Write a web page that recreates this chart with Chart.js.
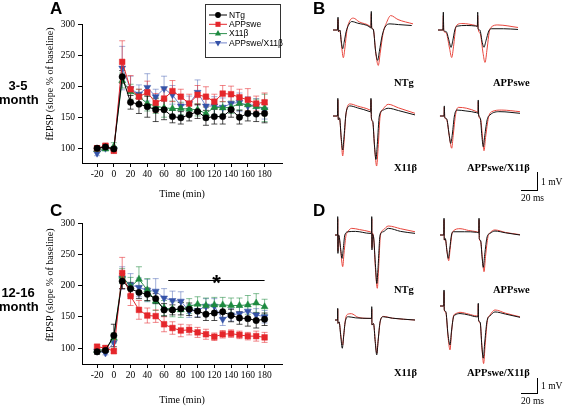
<!DOCTYPE html>
<html>
<head>
<meta charset="utf-8">
<script src="https://cdn.jsdelivr.net/npm/chart.js@4.4.1/dist/chart.umd.min.js"></script>
<style>
  body { margin: 0; background: #fff; }
  #fig { position: relative; width: 563px; height: 406px; overflow: hidden; background: #fff; }
  canvas { position: absolute; }
  .txt { position: absolute; white-space: nowrap; color: #000; }
  .panel { font: bold 17px "Liberation Sans", Arial, sans-serif; line-height: 17px; }
  .age { font: bold 13px "Liberation Sans", Arial, sans-serif; line-height: 14px; text-align: center; width: 38px; }
  .ytitle { font: 10px "Liberation Serif", "Times New Roman", serif; width: 140px; height: 12px; line-height: 12px; text-align: center; transform: rotate(-90deg); }
  .trlab { font: bold 10.5px "Liberation Serif", "Times New Roman", serif; line-height: 12px; }
  .scl { font: 9.5px "Liberation Serif", "Times New Roman", serif; line-height: 11px; }
  .bar { position: absolute; border-color: #000; border-style: solid; border-width: 0; }
</style>
</head>
<body>
<div id="fig">
  <canvas id="chartA" width="290" height="200" style="left:0;top:0"></canvas>
  <canvas id="chartC" width="290" height="216" style="left:0;top:190px"></canvas>

  <canvas id="bNtg" width="90" height="90" style="left:333px;top:3px"></canvas>
  <canvas id="bApp" width="90" height="90" style="left:438px;top:3px"></canvas>
  <canvas id="bX11" width="90" height="90" style="left:333px;top:89px"></canvas>
  <canvas id="bDbl" width="90" height="90" style="left:438px;top:89px"></canvas>
  <canvas id="dNtg" width="90" height="90" style="left:335px;top:208px"></canvas>
  <canvas id="dApp" width="90" height="90" style="left:440px;top:208px"></canvas>
  <canvas id="dX11" width="90" height="90" style="left:335px;top:293px"></canvas>
  <canvas id="dDbl" width="90" height="90" style="left:440px;top:279px"></canvas>

  <div class="txt panel" style="left:50px;top:0">A</div>
  <div class="txt panel" style="left:313px;top:0">B</div>
  <div class="txt panel" style="left:50px;top:202px">C</div>
  <div class="txt panel" style="left:313px;top:202px">D</div>

  <div class="txt age" style="left:-1px;top:79px">3-5<br>month</div>
  <div class="txt age" style="left:-1px;top:286px">12-16<br>month</div>

  <div class="txt ytitle" style="left:-20px;top:78px">fEPSP (slope % of baseline)</div>
  <div class="txt ytitle" style="left:-20px;top:279px">fEPSP (slope % of baseline)</div>

  <div class="txt trlab" style="left:394px;top:77px">NTg</div>
  <div class="txt trlab" style="left:493px;top:77px">APPswe</div>
  <div class="txt trlab" style="left:394px;top:162px">X11β</div>
  <div class="txt trlab" style="left:467px;top:162px">APPswe/X11β</div>
  <div class="txt trlab" style="left:394px;top:284px">NTg</div>
  <div class="txt trlab" style="left:493px;top:284px">APPswe</div>
  <div class="txt trlab" style="left:394px;top:367px">X11β</div>
  <div class="txt trlab" style="left:467px;top:367px">APPswe/X11β</div>

  <div class="bar" style="left:537px;top:172px;height:18px;border-left-width:1px"></div>
  <div class="bar" style="left:521px;top:190px;width:17px;border-top-width:1px"></div>
  <div class="txt scl" style="left:541px;top:177px">1 mV</div>
  <div class="txt scl" style="left:521px;top:193px">20 ms</div>
  <div class="bar" style="left:537px;top:378px;height:15px;border-left-width:1px"></div>
  <div class="bar" style="left:521px;top:393px;width:17px;border-top-width:1px"></div>
  <div class="txt scl" style="left:541px;top:381px">1 mV</div>
  <div class="txt scl" style="left:521px;top:396px">20 ms</div>
</div>

<script>
// time after tetanus (min)
const times = [-20, -10, 0, 10, 20, 30, 40, 50, 60, 70, 80, 90, 100, 110, 120, 130, 140, 150, 160, 170, 180];
const xTicks = [-20, 0, 20, 40, 60, 80, 100, 120, 140, 160, 180];
const yTicks = [100, 150, 200, 250, 300];
const groups = ["NTg", "APPswe", "X11β", "APPswe/X11β"];

// 3-5 month, fEPSP slope % of baseline
const ntgYoung = [100, 102, 99, 215, 174, 171, 167, 162, 162, 151, 149, 154, 159, 149, 151, 151, 162, 150, 156, 155, 156];
const ntgYoungErr = [4, 4, 3, 10, 11, 15, 17, 19, 16, 10, 10, 10, 11, 12, 12, 12, 12, 11, 12, 12, 15];
const appYoung = [100, 104, 96, 239, 195, 183, 190, 173, 180, 192, 183, 172, 186, 183, 175, 188, 187, 182, 178, 172, 174];
const appYoungErr = [4, 4, 4, 34, 22, 12, 18, 15, 15, 17, 12, 15, 15, 16, 12, 13, 13, 13, 18, 12, 15];
const x11Young = [98, 99, 103, 209, 191, 183, 172, 168, 165, 164, 164, 163, 162, 156, 166, 165, 166, 172, 170, 167, 165];
const x11YoungErr = [3, 3, 6, 12, 12, 12, 12, 12, 15, 12, 10, 10, 10, 10, 12, 10, 10, 10, 10, 12, 22];
const dblYoung = [92, 100, 98, 229, 196, 187, 198, 183, 196, 186, 168, 172, 190, 168, 168, 166, 172, 174, 168, 168, 162];
const dblYoungErr = [4, 3, 3, 35, 20, 15, 22, 12, 20, 15, 15, 12, 20, 15, 15, 15, 12, 15, 15, 12, 15];

// 12-16 month
const ntgOld = [94, 96, 120, 207, 195, 189, 186, 179, 161, 161, 163, 162, 159, 154, 156, 158, 152, 148, 147, 144, 146];
const ntgOldErr = [4, 3, 18, 12, 10, 10, 10, 8, 10, 8, 10, 10, 10, 10, 12, 10, 10, 10, 12, 12, 10];
const appOld = [102, 100, 95, 220, 183, 161, 152, 151, 138, 132, 128, 129, 125, 122, 118, 122, 123, 121, 119, 119, 117];
const appOldErr = [4, 4, 4, 25, 15, 15, 12, 10, 12, 10, 10, 8, 8, 8, 6, 6, 6, 6, 6, 8, 8];
const x11Old = [96, 98, 116, 215, 198, 210, 193, 175, 164, 162, 161, 167, 170, 168, 169, 169, 168, 168, 169, 172, 166];
const x11OldErr = [3, 3, 8, 12, 15, 20, 18, 15, 12, 12, 12, 12, 12, 12, 12, 12, 12, 12, 15, 15, 12];
const dblOld = [95, 92, 109, 212, 201, 197, 192, 191, 180, 176, 175, 159, 160, 167, 167, 146, 153, 155, 159, 153, 150];
const dblOldErr = [3, 3, 12, 18, 18, 15, 18, 20, 15, 15, 15, 10, 10, 12, 12, 10, 10, 10, 10, 10, 10];

// significance bar in panel C (min, % of baseline)
const sigRange = [65, 180];
const sigLevel = 209;

// representative traces: [ms, mV], black = baseline, red = after tetanus
const bNtgBlack = [[0,0],[5.5,0],[6.1,0.71],[6.6,-0.08],[8.5,0],[10,-0.6],[11.8,-1.04],[13.5,-0.7],[16,-0.1],[18.7,0.25],[22.8,0.47],[30,0.38],[45.1,0.16],[46.2,0.1],[46.7,1.03],[47.2,0.1],[49,0.05],[52,-1.2],[54.5,-1.69],[56.5,-1.2],[60,-0.3],[63.4,0.16],[69.5,0.34],[80,0.3],[96,0.25]];
const bNtgRed = [[0,0],[5.5,0],[6.1,0.6],[6.6,-0.08],[8.5,-0.05],[10.5,-0.9],[12.6,-1.54],[14.5,-1.0],[17,0],[20.7,0.53],[24.8,0.66],[32,0.45],[45.1,0.21],[46.2,0.15],[46.7,0.9],[47.2,0.15],[49,0.05],[52.5,-1.4],[55.2,-1.97],[57.5,-1.3],[61,-0.2],[65.5,0.43],[70.4,0.8],[79.3,0.58],[97.6,0.34]];
const bAppBlack = [[0,0],[6,0],[6.5,0.99],[7,-0.03],[9.8,-0.08],[13.5,-0.6],[15.9,-0.97],[18,-0.6],[20.5,0],[22.8,0.21],[35,0.25],[46,0.22],[48,0.2],[48.4,0.99],[48.9,0.07],[51,0],[54,-0.7],[56,-0.96],[58.5,-0.6],[62,-0.05],[65.5,0.07],[80,0.07],[97.6,0.03]];
const bAppRed = [[0,0],[6,0],[6.5,0.8],[7,-0.05],[9.8,-0.15],[14,-1.0],[16.7,-1.53],[19,-0.9],[21.5,0.1],[23.2,0.28],[29,0.36],[46,0.25],[48,0.22],[48.4,0.8],[48.9,0.1],[51.5,-0.2],[55,-1.3],[57.3,-1.8],[60,-1.0],[62.5,-0.1],[64.6,0.14],[73,0.28],[97.6,0.14]];
const bX11Black = [[0,0],[5.4,0],[5.9,0.98],[6.4,-0.2],[8,-0.1],[10,-1.2],[11.8,-1.89],[13.2,-1.3],[15.5,0],[16.7,0.33],[20.7,0.56],[30,0.45],[45.1,0.24],[46,0.22],[46.3,0.98],[46.8,-0.1],[48.5,-0.3],[50.5,-1.6],[52.4,-2.41],[54,-1.6],[56.5,0],[61.3,0.33],[67.4,0.43],[80,0.3],[100,0.06]];
const bX11Red = [[0,0],[5.4,0],[5.9,0.9],[6.4,-0.2],[8,-0.15],[10.2,-1.4],[11.8,-2.22],[13.5,-1.4],[15.8,0.1],[20.7,0.67],[30,0.55],[45.1,0.33],[46,0.3],[46.3,0.9],[46.8,-0.1],[48.5,-0.35],[51,-1.9],[53.2,-2.78],[55,-1.8],[57.5,0],[61.3,0.4],[67.4,0.65],[80,0.45],[100,0.15]];
const bDblBlack = [[2.4,0],[7.3,0],[7.7,0.56],[8.2,-0.07],[10.5,-0.15],[13.5,-1.0],[15.5,-1.52],[17.5,-1.0],[20,0],[22.8,0.33],[34,0.28],[47.2,0.18],[48.8,0.15],[49.1,0.89],[49.6,0.06],[51.5,-0.1],[53.5,-1.1],[55.2,-1.71],[57,-1.1],[60,-0.2],[63.4,0.06],[75.6,0.24],[100,0.15]];
const bDblRed = [[2.4,0],[7.3,0],[7.7,0.5],[8.2,-0.07],[10.5,-0.2],[14,-1.2],[16.7,-1.79],[18.5,-1.1],[21.5,0.1],[24.8,0.48],[35,0.43],[47.2,0.24],[48.8,0.2],[49.1,0.8],[49.6,0.06],[52,-0.2],[54.5,-1.3],[56.1,-1.93],[58,-1.2],[61.5,-0.1],[65.5,0.24],[77.7,0.33],[100,0.24]];

const dNtgBlack = [[0,0],[3,0],[3.3,1.02],[3.6,-1.02],[4,0],[5,-0.05],[6.5,-0.6],[8.6,-1.3],[10,-0.8],[12,0],[16,0.18],[25,0.2],[42.7,0.09],[44.5,0.09],[44.8,1.02],[45.1,-0.83],[45.5,0.05],[47,-0.1],[49.5,-1.8],[51,-2.69],[52.5,-1.8],[55,0],[58.9,0.18],[65,0.37],[80,0.2],[97.6,0.09]];
const dNtgRed = [[0,0],[3,0],[3.3,0.9],[3.6,-0.9],[4,0],[5,-0.1],[7,-0.9],[9.4,-1.76],[11,-1.0],[13.5,0],[14.3,0.09],[20.4,0.37],[30,0.3],[42.7,0.18],[44.5,0.15],[44.8,0.9],[45.1,-0.7],[45.5,0.1],[47,-0.1],[49.5,-2.0],[51.6,-2.96],[53,-2.0],[55.5,0],[58.9,0.28],[65,0.5],[80,0.35],[97.6,0.18]];
const dAppBlack = [[0,0],[4.6,0],[4.9,0.93],[5.2,-0.28],[6.5,-0.2],[8.5,-0.9],[10.1,-1.3],[11.8,-0.8],[14,0],[16.2,0.18],[30,0.18],[44.8,0.15],[47.3,0.12],[47.6,0.93],[47.9,-0.2],[49.5,-0.3],[51.3,-1.2],[52.8,-1.8],[54.5,-1.1],[57.5,-0.1],[61,0.09],[67,0.22],[80,0.12],[97.6,0]];
const dAppRed = [[0,0],[4.6,0],[4.9,0.85],[5.2,-0.28],[6.5,-0.25],[8.8,-1.0],[10.6,-1.43],[12.3,-0.8],[14.5,0.05],[16.2,0.22],[24.4,0.35],[35,0.25],[44.8,0.18],[47.3,0.15],[47.6,0.85],[47.9,-0.2],[49.5,-0.35],[51.8,-1.4],[53.7,-2.04],[55.5,-1.2],[58.5,-0.1],[61,0.12],[67,0.28],[80,0.14],[97.6,0.02]];
const dX11Black = [[0,0],[3,0],[3.3,0.65],[3.6,-0.19],[5,-0.1],[7,-0.9],[8.9,-1.57],[10.5,-0.9],[12.5,-0.1],[16.2,0.18],[25,0.12],[42.7,0.09],[44.5,0.09],[44.8,0.74],[45.1,-0.28],[47,-0.2],[49,-1.2],[50.9,-1.94],[52.5,-1.2],[55,-0.1],[58.9,0.18],[70,0.1],[97.6,0]];
const dX11Red = [[0,0],[3,0],[3.3,0.6],[3.6,-0.19],[5,-0.12],[7.3,-0.9],[9.4,-1.39],[11,-0.7],[13,0.1],[16.2,0.33],[20,0.35],[28,0.15],[42.7,0.09],[44.5,0.09],[44.8,0.6],[45.1,-0.28],[47,-0.2],[49.2,-1.2],[51,-1.85],[52.7,-1.1],[55.3,-0.05],[58.9,0.2],[70,0.1],[97.6,0]];
const dDblBlack = [[0,0],[4.6,0],[4.9,0.89],[5.2,-0.22],[7,-0.3],[9.8,-1.6],[12.2,-2.17],[14,-1.4],[16.5,-0.6],[18.3,-0.5],[24.4,-0.42],[35,-0.5],[44.8,-0.6],[46.4,-0.6],[46.7,0.15],[47,-0.78],[49,-0.9],[51,-2.2],[52.8,-2.9],[54.6,-2.0],[57.5,-0.8],[61,-0.55],[67,-0.33],[80,-0.45],[97.6,-0.63]];
const dDblRed = [[0,0],[4.6,0],[4.9,0.8],[5.2,-0.22],[7,-0.35],[10,-1.8],[12.2,-2.44],[14,-1.5],[16.5,-0.55],[18.3,-0.45],[24.4,-0.35],[35,-0.45],[44.8,-0.55],[46.4,-0.55],[46.7,0.1],[47,-0.75],[49,-0.95],[51.3,-2.4],[53.2,-3.2],[55,-2.2],[57.8,-0.8],[61,-0.5],[67,-0.22],[80,-0.4],[97.6,-0.6]];

// styles
const lineColors = ["#000000", "#e5262b", "#2f9150", "#7486cc"];
const markColors = ["#000000", "#e5262b", "#1d8a3f", "#3553a8"];
const errColors = ["rgba(0,0,0,0.7)", "rgba(229,38,43,0.55)", "rgba(29,138,63,0.55)", "rgba(70,95,180,0.5)"];
const markStyles = ["circle", "rect", "triangle", "triangle"];
const markRotation = [0, 0, 0, 180];
const markRadius = [3.2, 4, 4, 4];
const serif = "'Liberation Serif', 'Times New Roman', serif";

const errorBars = {
  id: "errorBars",
  beforeDatasetsDraw(chart) {
    const { ctx, scales } = chart;
    for (let i = chart.data.datasets.length - 1; i >= 0; i--) {
      const ds = chart.data.datasets[i];
      ctx.save();
      ctx.strokeStyle = ds.errColor;
      ctx.lineWidth = 1;
      ds.data.forEach((p, j) => {
        const px = scales.x.getPixelForValue(p.x);
        const top = scales.y.getPixelForValue(p.y + ds.errors[j]);
        const bot = scales.y.getPixelForValue(p.y - ds.errors[j]);
        ctx.beginPath();
        ctx.moveTo(px, top); ctx.lineTo(px, bot);
        ctx.moveTo(px - 3, top); ctx.lineTo(px + 3, top);
        ctx.moveTo(px - 3, bot); ctx.lineTo(px + 3, bot);
        ctx.stroke();
      });
      ctx.restore();
    }
  }
};

function drawMark(ctx, style, rot, r, x, y) {
  ctx.beginPath();
  if (style === "circle") {
    ctx.arc(x, y, r, 0, Math.PI * 2);
  } else if (style === "rect") {
    const s = r * Math.SQRT1_2;
    ctx.rect(x - s, y - s, 2 * s, 2 * s);
  } else {
    const d = rot ? -1 : 1;
    ctx.moveTo(x, y - d * r);
    ctx.lineTo(x + r * 0.866, y + d * r * 0.5);
    ctx.lineTo(x - r * 0.866, y + d * r * 0.5);
    ctx.closePath();
  }
  ctx.fill();
}

const legendBox = {
  id: "legendBox",
  afterDraw(chart) {
    const ctx = chart.ctx;
    ctx.save();
    ctx.strokeStyle = "#333";
    ctx.lineWidth = 1;
    ctx.strokeRect(205.5, 4.5, 75, 53);
    ctx.font = "8.5px 'Liberation Sans', Arial, sans-serif";
    ctx.textBaseline = "middle";
    groups.forEach((g, i) => {
      const y = 15 + i * 9.3;
      ctx.strokeStyle = lineColors[i];
      ctx.beginPath(); ctx.moveTo(209, y); ctx.lineTo(227, y); ctx.stroke();
      ctx.fillStyle = markColors[i];
      drawMark(ctx, markStyles[i], markRotation[i], markRadius[i] * 0.9, 218, y);
      ctx.fillStyle = "#000";
      ctx.fillText(g, 229, y + 0.5);
    });
    ctx.restore();
  }
};

const sigBar = {
  id: "sigBar",
  afterDatasetsDraw(chart) {
    const { ctx, scales } = chart;
    const x0 = scales.x.getPixelForValue(sigRange[0]);
    const x1 = scales.x.getPixelForValue(sigRange[1]);
    const y = Math.round(scales.y.getPixelForValue(sigLevel)) + 0.5;
    ctx.save();
    ctx.strokeStyle = "#000";
    ctx.lineWidth = 1;
    ctx.beginPath(); ctx.moveTo(x0, y); ctx.lineTo(x1, y); ctx.stroke();
    ctx.fillStyle = "#000";
    ctx.font = "bold 22px 'Liberation Sans', Arial, sans-serif";
    ctx.textAlign = "center";
    ctx.textBaseline = "alphabetic";
    ctx.fillText("*", (x0 + x1) / 2, y + 9);
    ctx.restore();
  }
};

function growthChart(id, series, errors, padTop, xHeight, yMin, extra) {
  return new Chart(document.getElementById(id), {
    type: "line",
    data: {
      datasets: groups.map((g, i) => ({
        label: g,
        data: times.map((t, j) => ({ x: t, y: series[i][j] })),
        errors: errors[i],
        errColor: errColors[i],
        borderColor: lineColors[i],
        backgroundColor: markColors[i],
        pointBackgroundColor: markColors[i],
        pointBorderColor: markColors[i],
        pointStyle: markStyles[i],
        pointRotation: markRotation[i],
        pointRadius: markRadius[i],
        pointBorderWidth: 0.5,
        borderWidth: 1,
        tension: 0
      }))
    },
    options: {
      responsive: false,
      animation: false,
      events: [],
      layout: { padding: { top: padTop, right: 8, left: 0, bottom: 0 } },
      plugins: { legend: { display: false }, tooltip: { enabled: false } },
      scales: {
        x: {
          type: "linear",
          min: -38,
          max: 200.8,
          afterBuildTicks: s => { s.ticks = xTicks.map(v => ({ value: v })); },
          afterFit: s => { s.height = xHeight; },
          grid: { drawOnChartArea: false, color: "#000", tickLength: 4 },
          border: { color: "#000", width: 1 },
          ticks: { color: "#000", font: { family: serif, size: 9.5 }, maxRotation: 0, autoSkip: false, padding: 2 },
          title: { display: true, text: "Time (min)", color: "#000", font: { family: serif, size: 10 }, padding: { top: 0, bottom: 0 } }
        },
        y: {
          min: yMin,
          max: 300,
          afterBuildTicks: s => { s.ticks = yTicks.map(v => ({ value: v })); },
          afterFit: s => { s.width = 82; },
          grid: { drawOnChartArea: false, color: "#000", tickLength: 4 },
          border: { color: "#000", width: 1 },
          ticks: { color: "#000", font: { family: serif, size: 9.5 }, padding: 3 }
        }
      }
    },
    plugins: [errorBars].concat(extra)
  });
}

growthChart("chartA",
  [ntgYoung, appYoung, x11Young, dblYoung],
  [ntgYoungErr, appYoungErr, x11YoungErr, dblYoungErr],
  24, 37, 76.3, [legendBox]);

growthChart("chartC",
  [ntgOld, appOld, x11Old, dblOld],
  [ntgOldErr, appOldErr, x11OldErr, dblOldErr],
  33, 42, 74.4, [sigBar]);

function traceChart(id, black, red) {
  return new Chart(document.getElementById(id), {
    type: "line",
    data: {
      datasets: [
        { data: black.map(([x, y]) => ({ x, y })), borderColor: "#111111" },
        { data: red.map(([x, y]) => ({ x, y })), borderColor: "#e8453c" }
      ]
    },
    options: {
      responsive: false,
      animation: false,
      events: [],
      layout: { padding: 0 },
      elements: { point: { radius: 0 }, line: { borderWidth: 1, cubicInterpolationMode: "monotone" } },
      plugins: { legend: { display: false }, tooltip: { enabled: false } },
      scales: {
        x: { type: "linear", display: false, min: 0, max: 109.76 },
        y: { display: false, min: -3.5, max: 1.5 }
      }
    }
  });
}

traceChart("bNtg", bNtgBlack, bNtgRed);
traceChart("bApp", bAppBlack, bAppRed);
traceChart("bX11", bX11Black, bX11Red);
traceChart("bDbl", bDblBlack, bDblRed);
traceChart("dNtg", dNtgBlack, dNtgRed);
traceChart("dApp", dAppBlack, dAppRed);
traceChart("dX11", dX11Black, dX11Red);
traceChart("dDbl", dDblBlack, dDblRed);
</script>
</body>
</html>
